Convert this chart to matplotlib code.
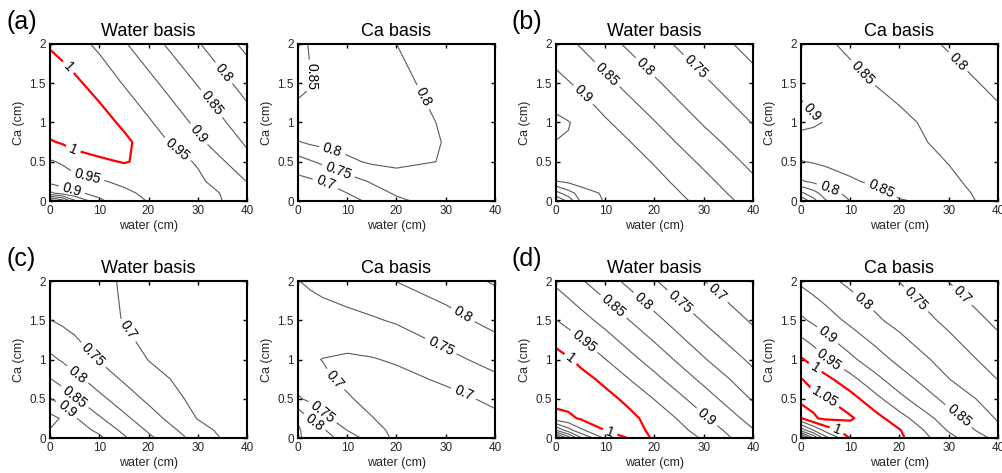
import numpy as np
import matplotlib.pyplot as plt

plt.rcParams['font.family'] = ['Liberation Sans', 'DejaVu Sans']

# grid nodes: water depth (cm) across, Ca depth (cm) up
water = [0, 2.5, 5, 10, 15, 20, 30, 40]
ca = [0, 0.1, 0.25, 0.5, 0.75, 1, 1.5, 2]

# values, one row per Ca value (bottom row first)
a_water = [
    [0.61, 0.67, 0.79, 0.89, 0.93, 0.952, 0.97, 0.93],
    [0.84, 0.87, 0.89, 0.915, 0.94, 0.96, 0.97, 0.925],
    [0.915, 0.925, 0.935, 0.945, 0.96, 0.975, 0.96, 0.899],
    [0.945, 0.955, 0.97, 0.99, 1.003, 0.99, 0.945, 0.865],
    [0.995, 1.005, 1.02, 1.03, 1.012, 0.977, 0.91, 0.843],
    [1.03, 1.035, 1.035, 1.022, 0.99, 0.956, 0.889, 0.822],
    [1.03, 1.025, 1.01, 0.98, 0.947, 0.914, 0.847, 0.78],
    [0.995, 0.981, 0.968, 0.94, 0.905, 0.871, 0.804, 0.737],
]
a_ca = [
    [0.665, 0.67, 0.675, 0.688, 0.707, 0.74, 0.775, 0.778],
    [0.672, 0.678, 0.685, 0.70, 0.73, 0.756, 0.78, 0.78],
    [0.685, 0.692, 0.70, 0.728, 0.755, 0.775, 0.79, 0.782],
    [0.73, 0.745, 0.76, 0.79, 0.807, 0.812, 0.797, 0.782],
    [0.797, 0.808, 0.815, 0.82, 0.822, 0.82, 0.798, 0.78],
    [0.835, 0.835, 0.833, 0.83, 0.825, 0.82, 0.795, 0.78],
    [0.86, 0.852, 0.845, 0.835, 0.825, 0.81, 0.785, 0.775],
    [0.87, 0.845, 0.84, 0.83, 0.815, 0.80, 0.785, 0.775],
]
b_water = [
    [0.70, 0.76, 0.855, 0.905, 0.93, 0.935, 0.885, 0.83],
    [0.78, 0.83, 0.87, 0.91, 0.935, 0.928, 0.876, 0.821],
    [0.898, 0.91, 0.925, 0.935, 0.935, 0.916, 0.863, 0.808],
    [0.935, 0.935, 0.935, 0.935, 0.921, 0.896, 0.841, 0.787],
    [0.949, 0.947, 0.94, 0.926, 0.901, 0.874, 0.818, 0.767],
    [0.96, 0.952, 0.94, 0.906, 0.879, 0.852, 0.796, 0.748],
    [0.915, 0.903, 0.890, 0.862, 0.835, 0.807, 0.757, 0.715],
    [0.873, 0.859, 0.846, 0.817, 0.791, 0.766, 0.723, 0.685],
]
b_ca = [
    [0.60, 0.68, 0.745, 0.80, 0.83, 0.847, 0.862, 0.84],
    [0.69, 0.73, 0.775, 0.815, 0.84, 0.857, 0.86, 0.838],
    [0.795, 0.81, 0.825, 0.845, 0.857, 0.863, 0.856, 0.833],
    [0.848, 0.853, 0.858, 0.865, 0.868, 0.867, 0.849, 0.826],
    [0.885, 0.885, 0.882, 0.878, 0.872, 0.862, 0.841, 0.817],
    [0.91, 0.905, 0.898, 0.884, 0.87, 0.859, 0.834, 0.81],
    [0.893, 0.878, 0.872, 0.861, 0.849, 0.838, 0.815, 0.791],
    [0.866, 0.86, 0.855, 0.843, 0.831, 0.82, 0.796, 0.773],
]
c_water = [
    [0.94, 0.935, 0.928, 0.91, 0.858, 0.81, 0.732, 0.662],
    [0.948, 0.942, 0.925, 0.889, 0.838, 0.794, 0.719, 0.66],
    [0.965, 0.945, 0.905, 0.856, 0.811, 0.772, 0.698, 0.66],
    [0.902, 0.877, 0.854, 0.812, 0.775, 0.74, 0.685, 0.66],
    [0.852, 0.833, 0.813, 0.777, 0.744, 0.716, 0.68, 0.66],
    [0.81, 0.795, 0.778, 0.747, 0.723, 0.699, 0.675, 0.66],
    [0.751, 0.742, 0.733, 0.716, 0.698, 0.688, 0.672, 0.66],
    [0.725, 0.72, 0.716, 0.707, 0.697, 0.69, 0.68, 0.67],
]
c_ca = [
    [0.856, 0.835, 0.822, 0.778, 0.727, 0.69, 0.66, 0.67],
    [0.855, 0.832, 0.807, 0.749, 0.713, 0.69, 0.665, 0.68],
    [0.845, 0.795, 0.762, 0.725, 0.702, 0.68, 0.672, 0.69],
    [0.755, 0.74, 0.725, 0.705, 0.685, 0.675, 0.685, 0.71],
    [0.73, 0.72, 0.708, 0.69, 0.682, 0.685, 0.708, 0.741],
    [0.712, 0.705, 0.699, 0.693, 0.697, 0.706, 0.737, 0.766],
    [0.728, 0.73, 0.732, 0.737, 0.745, 0.755, 0.783, 0.815],
    [0.749, 0.756, 0.763, 0.776, 0.788, 0.801, 0.826, 0.855],
]
d_water = [
    [0.58, 0.72, 0.84, 0.96, 1.005, 0.999, 0.945, 0.865],
    [0.80, 0.88, 0.94, 1.001, 1.01, 0.994, 0.93, 0.853],
    [0.98, 0.99, 1.005, 1.015, 1.01, 0.984, 0.907, 0.831],
    [1.02, 1.02, 1.02, 1.013, 0.989, 0.948, 0.873, 0.795],
    [1.03, 1.025, 1.015, 0.99, 0.949, 0.9125, 0.838, 0.766],
    [1.02, 1.005, 0.989, 0.951, 0.914, 0.879, 0.804, 0.739],
    [0.951, 0.935, 0.918, 0.8845, 0.849, 0.813, 0.746, 0.694],
    [0.89, 0.873, 0.855, 0.821, 0.787, 0.753, 0.701, 0.648],
]
d_ca = [
    [0.58, 0.75, 0.88, 1.005, 1.03, 1.01, 0.915, 0.835],
    [0.82, 0.90, 0.97, 1.025, 1.04, 1.003, 0.895, 0.81],
    [0.995, 1.045, 1.058, 1.056, 1.02, 0.97, 0.871, 0.795],
    [1.07, 1.062, 1.053, 1.021, 0.966, 0.913, 0.833, 0.773],
    [1.052, 1.034, 1.015, 0.966, 0.914, 0.872, 0.801, 0.749],
    [1.006, 0.981, 0.954, 0.911, 0.872, 0.837, 0.778, 0.729],
    [0.909, 0.891, 0.873, 0.839, 0.8085, 0.784, 0.739, 0.689],
    [0.841, 0.827, 0.813, 0.789, 0.769, 0.749, 0.699, 0.665],
]

levels = [0.55, 0.6, 0.65, 0.7, 0.75, 0.8, 0.85, 0.9, 0.95, 1.0, 1.05]

# where the inline labels sit (water, Ca)
a_water_lab = [(3.5, 1.69), (4.8, 0.67), (35.7, 1.65), (33, 1.25), (31, 0.89),
               (26.3, 0.69), (7.8, 0.37), (4.5, 0.16)]
a_ca_lab = [(3.2, 1.59), (25.6, 1.33), (6.9, 0.63), (8.3, 0.4), (5.6, 0.23)]
b_water_lab = [(5.6, 1.36), (10, 1.59), (17.8, 1.68), (28, 1.68)]
b_ca_lab = [(12.2, 1.61), (31.3, 1.74), (2.9, 1.16), (16.2, 0.14), (5.7, 0.14)]
c_water_lab = [(15.3, 1.35), (7.8, 1.0), (5.4, 0.79), (5.1, 0.53), (3.4, 0.36)]
c_ca_lab = [(33.4, 1.56), (29, 1.17), (33.7, 0.58), (7.6, 0.75), (4.9, 0.32), (3.2, 0.19)]
d_water_lab = [(11.6, 1.67), (17.1, 1.69), (24.6, 1.69), (31.4, 1.75), (5.8, 1.24),
               (3.1, 1.02), (30.4, 0.25), (10.9, 0.06)]
d_ca_lab = [(11.8, 1.68), (21.7, 1.67), (32.3, 1.79), (5.3, 1.3), (5.6, 0.98),
            (2.9, 0.9), (4.9, 0.53), (32, 0.28), (7.3, 0.1)]

panels = [
    (a_water, a_water_lab, 'Water basis', 0, 0, '(a)'),
    (a_ca, a_ca_lab, 'Ca basis', 1, 0, None),
    (b_water, b_water_lab, 'Water basis', 2, 0, '(b)'),
    (b_ca, b_ca_lab, 'Ca basis', 3, 0, None),
    (c_water, c_water_lab, 'Water basis', 0, 1, '(c)'),
    (c_ca, c_ca_lab, 'Ca basis', 1, 1, None),
    (d_water, d_water_lab, 'Water basis', 2, 1, '(d)'),
    (d_ca, d_ca_lab, 'Ca basis', 3, 1, None),
]

W, H = 1003, 473
lefts = [50, 298, 556, 801]
tops = [44, 281]
aw, ah = 197, 157

fig = plt.figure(figsize=(W / 100, H / 100), dpi=100)
txt = '#262626'

line_col = ['red' if lv >= 0.999 else '#5a5a5a' for lv in levels]
line_w = [1.6 if lv >= 0.999 else 0.8 for lv in levels]

for z, labs, title, col, row, tag in panels:
    ax = fig.add_axes([lefts[col] / W, 1 - (tops[row] + ah) / H, aw / W, ah / H])
    cs = ax.contour(water, ca, np.array(z), levels=levels, colors=line_col,
                    linewidths=line_w)
    ax.clabel(cs, manual=labs, inline=True, inline_spacing=4, fontsize=10,
              fmt='%g', colors='k')
    ax.set_xlim(0, 40)
    ax.set_ylim(0, 2)
    ax.set_xticks([0, 10, 20, 30, 40])
    ax.set_yticks([0, 0.5, 1, 1.5, 2])
    ax.set_yticklabels(['0', '0.5', '1', '1.5', '2'])
    ax.tick_params(direction='in', top=True, right=True, length=3, width=1,
                   labelsize=8.5, labelcolor=txt, pad=3)
    for s in ax.spines.values():
        s.set_linewidth(1.5)
    ax.set_xlabel('water (cm)', fontsize=9, color=txt, labelpad=2)
    ax.set_ylabel('Ca (cm)', fontsize=9, color=txt, labelpad=3)
    ax.set_title(title, fontsize=13, pad=6)
    if tag:
        fig.text((lefts[col] - 44) / W, 1 - (tops[row] - 34) / H, tag,
                 fontsize=18, va='top')

fig.savefig('out.png', dpi=100)
